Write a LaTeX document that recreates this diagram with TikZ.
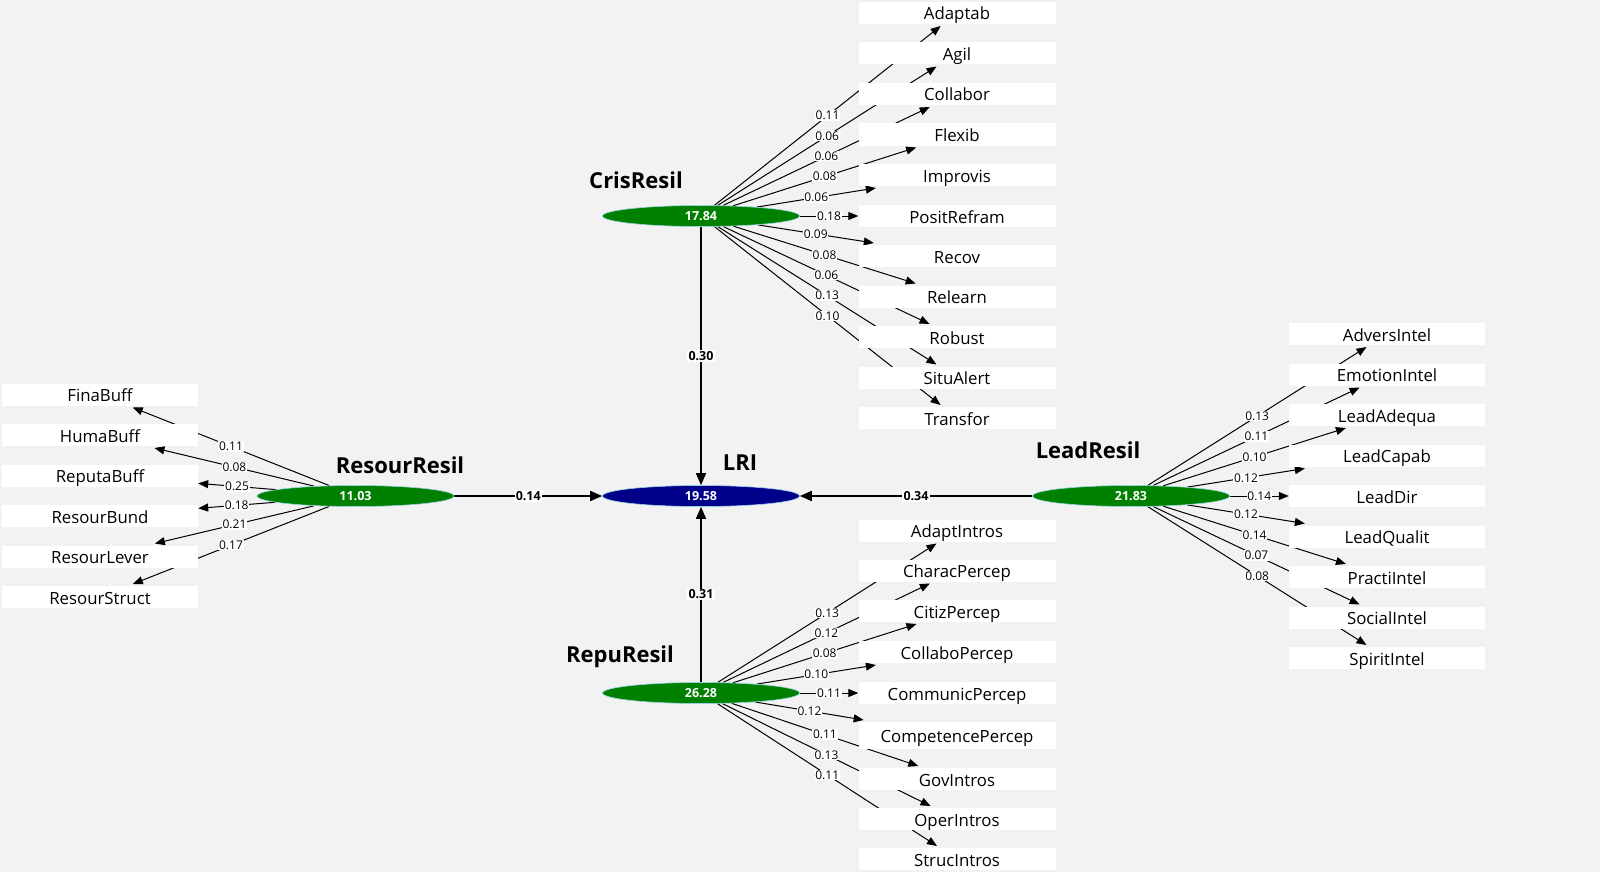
\documentclass[tikz,border=0pt]{standalone}
\usepackage{fontspec}
\setmainfont{Open Sans}
\usetikzlibrary{arrows.meta,shapes.geometric}
\pgfdeclarelayer{bg}
\pgfsetlayers{bg,main}
\definecolor{canvas}{RGB}{242,242,242}
\definecolor{lvgreen}{RGB}{0,128,0}
\definecolor{lvblue}{RGB}{0,0,139}
\definecolor{halo}{RGB}{150,210,225}
\begin{document}
\begin{tikzpicture}[x=1pt,y=-1pt,
 lv/.style={ellipse, minimum width=197pt, minimum height=21pt, inner sep=0pt, fill=lvgreen, draw=halo, line width=0.6pt, text=white, font=\fontsize{12.5}{14}\selectfont\bfseries},
 lvname/.style={font=\fontsize{22}{26}\selectfont\bfseries, inner sep=0pt},
 ind/.style={rectangle, fill=white, minimum width=197pt, minimum height=22pt, inner sep=0pt, outer ysep=2pt, text height=14pt, text depth=0pt, font=\fontsize{16.8}{19}\selectfont},
 load/.style={draw=black, line width=1pt, -{Triangle[length=10pt,width=8pt]}},
 struct/.style={draw=black, line width=1.6pt, -{Triangle[length=12pt,width=10pt]}},
 wl/.style={fill=white, inner sep=0.8pt, font=\fontsize{12}{13}\selectfont},
 pl/.style={fill=white, inner sep=1.2pt, font=\fontsize{12.5}{13}\selectfont\bfseries},
]
\begin{pgfonlayer}{bg}
\fill[canvas] (0,0) rectangle (1600,872);
\end{pgfonlayer}
\useasboundingbox (0,0) rectangle (1600,872);

% latent variables
\node[lv] (cris) at (701,216) {17.84};
\node[lv, fill=lvblue] (lri) at (701,496) {19.58};
\node[lv] (resour) at (355.5,496) {11.03};
\node[lv] (lead) at (1131,496) {21.83};
\node[lv] (repu) at (701,693) {26.28};

\node[lvname] (crisname) at (636,180) {CrisResil};
\node[lvname] (lriname) at (740,463) {LRI};
\node[lvname] (resourname) at (400,465) {ResourResil};
\node[lvname] (leadname) at (1088,450) {LeadResil};
\node[lvname] (repuname) at (620,657) {RepuResil};

% indicators: CrisResil
\foreach \n/\t/\yy in {c1/Adaptab/13, c2/Agil/53.5, c3/Collabor/94, c4/Flexib/134.5, c5/Improvis/175, c6/PositRefram/216, c7/Recov/256, c8/Relearn/296.5, c9/Robust/337, c10/SituAlert/377.5, c11/Transfor/418}
  \node[ind] (\n) at (957,\yy) {\t};
% indicators: ResourResil
\foreach \n/\t/\yy in {r1/FinaBuff/394.5, r2/HumaBuff/435, r3/ReputaBuff/475.5, r4/ResourBund/516, r5/ResourLever/556.5, r6/ResourStruct/597}
  \node[ind, minimum width=196pt] (\n) at (100,\yy) {\t};
% indicators: LeadResil
\foreach \n/\t/\yy in {l1/AdversIntel/334, l2/EmotionIntel/374.5, l3/LeadAdequa/415, l4/LeadCapab/455.5, l5/LeadDir/496, l6/LeadQualit/536.5, l7/PractiIntel/577, l8/SocialIntel/617.5, l9/SpiritIntel/658}
  \node[ind, minimum width=196pt] (\n) at (1387,\yy) {\t};
% indicators: RepuResil
\foreach \n/\t/\yy in {p1/AdaptIntros/530.5, p2/CharacPercep/570.5, p3/CitizPercep/611, p4/CollaboPercep/652, p5/CommunicPercep/693, p7/GovIntros/779, p8/OperIntros/819, p9/StrucIntros/859}
  \node[ind] (\n) at (957,\yy) {\t};
\node[ind, minimum height=27pt] (p6) at (957,735.5) {CompetencePercep};

\begin{pgfonlayer}{bg}
% structural paths
\draw[struct] (resour) -- node[pl]{0.14} (lri);
\draw[struct] (lead) -- node[pl]{0.34} (lri);
\draw[struct] (cris) -- node[pl]{0.30} (lri);
\draw[struct] (repu) -- node[pl]{0.31} (lri);
% loadings
\foreach \n/\w in {c1/0.11, c2/0.06, c3/0.06, c4/0.08, c5/0.06, c6/0.18, c7/0.09, c8/0.08, c9/0.06, c10/0.13, c11/0.10}
  \draw[load] (cris) -- node[wl]{\w} (\n);
\foreach \n/\w in {r1/0.11, r2/0.08, r3/0.25, r4/0.18, r5/0.21, r6/0.17}
  \draw[load] (resour) -- node[wl]{\w} (\n);
\foreach \n/\w in {l1/0.13, l2/0.11, l3/0.10, l4/0.12, l5/0.14, l6/0.12, l7/0.14, l8/0.07, l9/0.08}
  \draw[load] (lead) -- node[wl]{\w} (\n);
\foreach \n/\w in {p1/0.13, p2/0.12, p3/0.08, p4/0.10, p5/0.11, p6/0.12, p7/0.11, p8/0.13, p9/0.11}
  \draw[load] (repu) -- node[wl]{\w} (\n);
\end{pgfonlayer}
\end{tikzpicture}
\end{document}
